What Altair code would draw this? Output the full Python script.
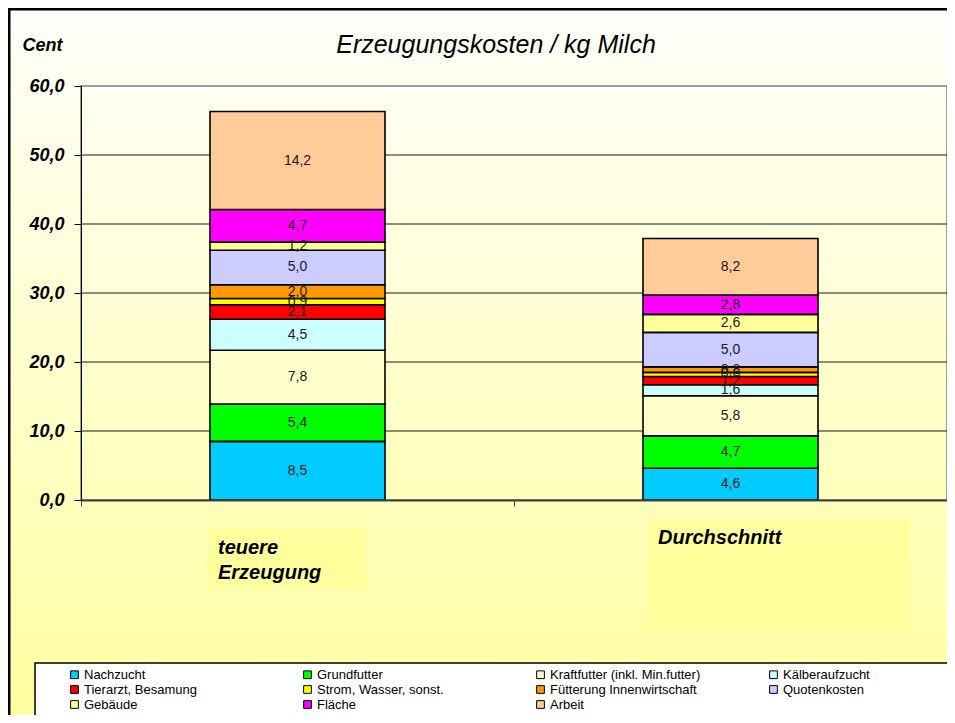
import altair as alt
import pandas as pd

categories = ["teuere Erzeugung", "Durchschnitt"]
components = ["Nachzucht", "Grundfutter", "Kraftfutter (inkl. Min.futter)", "Kälberaufzucht",
              "Tierarzt, Besamung", "Strom, Wasser, sonst.", "Fütterung Innenwirtschaft", "Quotenkosten",
              "Gebäude", "Fläche", "Arbeit"]
teuer = [8.5, 5.4, 7.8, 4.5, 2.1, 0.9, 2.0, 5.0, 1.2, 4.7, 14.2]
durchschnitt = [4.6, 4.7, 5.8, 1.6, 1.2, 0.6, 0.8, 5.0, 2.6, 2.8, 8.2]
colors = ["#00CCFF", "#00FF00", "#FFFFCC", "#CCFFFF", "#FF0000", "#FFFF00",
          "#FF9900", "#CCCCFF", "#FFFF99", "#FF00FF", "#FFCC99"]
y_ticks = [0, 10, 20, 30, 40, 50, 60]
grid_values = [10, 20, 30, 40, 50]

rows = []
for cat, vals in zip(categories, [teuer, durchschnitt]):
    for i, (comp, v) in enumerate(zip(components, vals)):
        rows.append({"category": cat, "component": comp, "value": v, "idx": i})
df = pd.DataFrame(rows)
one = pd.DataFrame({"k": [0]})

W, H = 866, 414
SANS = "Liberation Sans"

y_scale = alt.Scale(domain=[0, 60], nice=False, zero=True)
y_axis = alt.Axis(values=y_ticks, grid=False, domain=True, domainColor="#000", domainWidth=1,
                  ticks=True, tickColor="#000", tickSize=7, labelPadding=10,
                  labelExpr="replace(format(datum.value, '.1f'), '.', ',')",
                  labelFont=SANS, labelFontSize=18, labelFontWeight="bold", labelFontStyle="italic",
                  labelColor="#000", title="Cent", titleAngle=0, titleX=-59, titleY=-41,
                  titleAlign="left", titleBaseline="middle", titleFont=SANS, titleFontSize=18,
                  titleFontWeight="bold", titleFontStyle="italic", titleColor="#000", zindex=1)
x_scale = alt.Scale(domain=categories, paddingInner=0, paddingOuter=0)
is_avg = "datum.value == 'Durchschnitt'"
x_axis = alt.Axis(title=None, domain=True, domainColor="#404040", domainWidth=2,
                  ticks=True, tickBand="extent", tickColor="#404040", tickSize=6,
                  labelExpr="split(datum.label, ' ')", labelAngle=0, labelAlign="left",
                  labelBaseline={"condition": {"test": is_avg, "value": "middle"}, "value": "top"},
                  labelOffset={"condition": {"test": is_avg, "value": -73}, "value": -80},
                  labelPadding=31, labelLineHeight=25,
                  labelFont=SANS, labelFontSize=20, labelFontWeight="bold",
                  labelFontStyle="italic", labelColor="#000", zindex=1)
x_enc = alt.X("category:N", sort=categories, scale=x_scale, axis=x_axis)

grad_outer = {"gradient": "linear", "x1": 0, "y1": 0, "x2": 0, "y2": 1,
              "stops": [{"offset": 0, "color": "#FFFFFA"}, {"offset": 1, "color": "#FFFF99"}]}
grad_inner = {"gradient": "linear", "x1": 0, "y1": 0, "x2": 0, "y2": 1,
              "stops": [{"offset": 0, "color": "#FFFFF3"}, {"offset": 1, "color": "#FFFFBB"}]}

outer = alt.Chart(one).mark_rect(fill=grad_outer, stroke="#000", strokeWidth=3).encode(
    x=alt.value(-72), x2=alt.value(W + 60), y=alt.value(-77), y2=alt.value(H + 280))
inner = alt.Chart(one).mark_rect(fill=grad_inner, stroke="#808080", strokeWidth=1.5).encode(
    x=alt.value(0), x2=alt.value(W), y=alt.value(0), y2=alt.value(H))
box1 = alt.Chart(one).mark_rect(fill="#FFFF99", opacity=0.8).encode(
    x=alt.value(126), x2=alt.value(286), y=alt.value(441), y2=alt.value(502))
box2 = alt.Chart(one).mark_rect(fill="#FFFF99", opacity=0.8).encode(
    x=alt.value(567), x2=alt.value(829), y=alt.value(433), y2=alt.value(544))
legend_box = alt.Chart(one).mark_rect(fill="#FFFFFF", stroke="#000", strokeWidth=1.5).encode(
    x=alt.value(-46), x2=alt.value(W + 40), y=alt.value(577), y2=alt.value(H + 260))

grid = alt.Chart(pd.DataFrame({"v": grid_values})).mark_rule(color="#1a1a1a", strokeWidth=1).encode(
    y=alt.Y("v:Q", scale=y_scale, axis=y_axis), x=alt.value(0), x2=alt.value(W))

bars = alt.Chart(df).mark_bar(size=175, stroke="#000", strokeWidth=1.6).encode(
    x=x_enc,
    y=alt.Y("value:Q", stack="zero", scale=y_scale, axis=y_axis),
    order=alt.Order("idx:Q", sort="ascending"),
    color=alt.Color("component:N", sort=components,
                    scale=alt.Scale(domain=components, range=colors),
                    legend=alt.Legend(orient="none", legendX=-13, legendY=582, columns=4,
                                      direction="horizontal",
                                      gridAlign="all", columnPadding=66, rowPadding=1,
                                      title=None, padding=0, symbolType="square", symbolSize=60,
                                      symbolStrokeColor="#000", symbolStrokeWidth=1,
                                      labelFont=SANS, labelFontSize=13, labelColor="#000",
                                      labelOffset=3, labelLimit=300)),
)

labels = alt.Chart(df).transform_stack(
    stack="value", as_=["y0", "y1"], groupby=["category"],
    sort=[alt.SortField("idx", order="ascending")]
).transform_calculate(
    mid="(datum.y0 + datum.y1) / 2",
    lbl="replace(format(datum.value, '.1f'), '.', ',')"
).mark_text(font=SANS, fontSize=14, color="#1a1a1a", baseline="middle", align="center").encode(
    x=x_enc,
    y=alt.Y("mid:Q", scale=y_scale, axis=y_axis),
    text="lbl:N",
)

title = alt.Chart(one).mark_text(text="Erzeugungskosten / kg Milch", font=SANS, fontSize=25,
                                 fontStyle="italic", color="#000", align="center",
                                 baseline="middle").encode(x=alt.value(415), y=alt.value(-41))

chart = alt.layer(outer, inner, box1, box2, legend_box, grid, bars, labels, title).properties(
    width=W, height=H,
    padding={"left": 73, "top": 78, "right": 0, "bottom": 215},
    autosize=alt.AutoSizeParams(type="none"),
).configure_view(stroke=None)

chart.save("out.html", embed_options={"renderer": "svg", "actions": False})
